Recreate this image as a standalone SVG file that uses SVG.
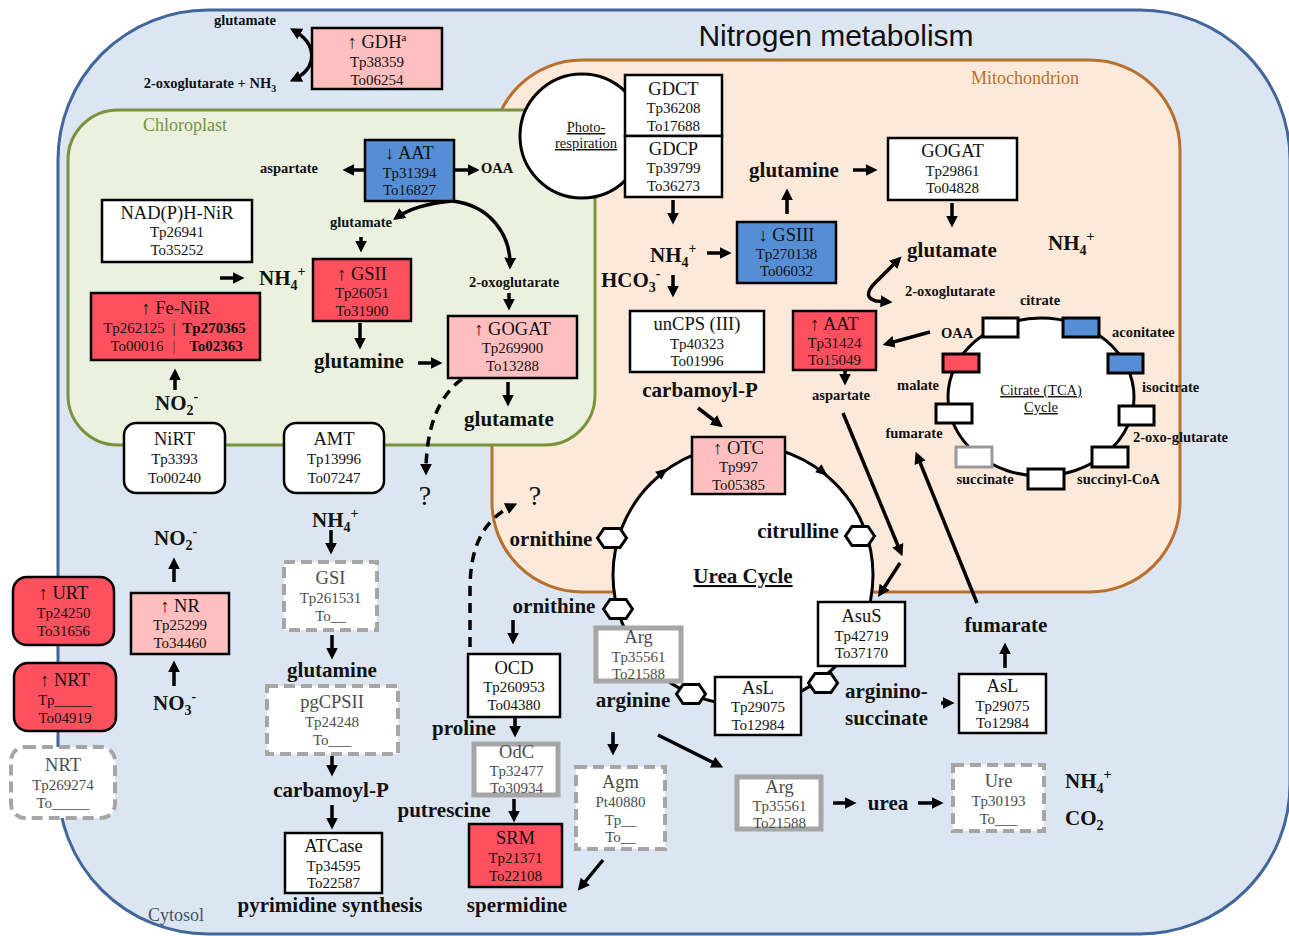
<svg xmlns="http://www.w3.org/2000/svg" width="1289" height="936" viewBox="0 0 1289 936">
<defs>
<style>
.c{font-family:"Liberation Serif","Times New Roman",serif;text-anchor:middle;fill:#111}
.st{text-anchor:start}
.n{font-size:18.5px}
.s{font-size:15px}
.b{font-weight:bold;font-size:21px}
.bs{font-weight:bold;font-size:14.5px}
.g{fill:#4d4d4d}
.k{stroke:#000;stroke-width:2.5}
.wt{fill:#fff}.pk{fill:#ffbfbf}.rd{fill:#ff505f}.bl{fill:#558ed5}
.gy{fill:#fff;stroke:#a6a6a6;stroke-width:5}
.ds{fill:#fff;stroke:#a6a6a6;stroke-width:4;stroke-dasharray:11 6}
.ar{stroke:#000;stroke-width:3.5;fill:none;marker-end:url(#ah)}
.dd{stroke-dasharray:10 7}
.tb{stroke:#000;stroke-width:3}
.u{text-decoration:underline}
</style>
<marker id="ah" viewBox="0 0 10 10" refX="7" refY="5" markerWidth="12" markerHeight="12" markerUnits="userSpaceOnUse" orient="auto-start-reverse"><path d="M0,0 L10,5 L0,10 z" fill="#000"/></marker>
<polygon id="hex" points="-14.5,0 -8,-9.5 8,-9.5 14.5,0 8,9.5 -8,9.5" fill="#fff" stroke="#000" stroke-width="3"/>
<polygon id="tri" points="-6,-5 6,0 -6,5" fill="#000"/>
</defs>

<!-- compartments -->
<g id="cytosol">
<rect x="58" y="10" width="1232" height="924" rx="150" fill="#dce6f2" stroke="#41669a" stroke-width="3"/>
<text class="c" x="176" y="921" font-size="18" fill="#44546a" style="fill:#44546a">Cytosol</text>
</g>
<text x="836" y="46" font-family="'Liberation Sans',Arial,sans-serif" font-size="30" text-anchor="middle" fill="#111">Nitrogen metabolism</text>
<g id="mitochondrion">
<rect x="492" y="60" width="688" height="532" rx="90" fill="#fde9d9" stroke="#b8702e" stroke-width="3"/>
<text class="c" x="1025" y="84" font-size="18" style="fill:#b8702e">Mitochondrion</text>
</g>
<g id="chloroplast">
<rect x="68" y="110" width="527" height="335" rx="50" fill="#ebf1de" stroke="#77933c" stroke-width="3"/>
<text class="c" x="185" y="131" font-size="18" style="fill:#77933c">Chloroplast</text>
</g>

<!-- cycles -->
<g id="photorespiration">
<circle cx="582" cy="136" r="62" fill="#fff" stroke="#000" stroke-width="3"/>
<text class="c u" x="586" y="132" font-size="14.5">Photo-</text>
<text class="c u" x="586" y="148" font-size="14.5">respiration</text>
</g>
<g id="urea-cycle">
<circle cx="743" cy="575" r="130" fill="#fff" stroke="#000" stroke-width="3"/>
<use href="#tri" transform="translate(663,472) rotate(-38)"/>
<use href="#tri" transform="translate(823,472) rotate(38)"/>
<text class="c b u" x="743" y="583">Urea Cycle</text>
</g>
<g id="tca-cycle">
<ellipse cx="1041" cy="397" rx="93" ry="79" fill="#fff" stroke="#000" stroke-width="3"/>
<text class="c u" x="1041" y="395" font-size="14.5">Citrate (TCA)</text>
<text class="c u" x="1041" y="412" font-size="14.5">Cycle</text>
<rect class="tb wt" x="983" y="318" width="35" height="19"/>
<rect class="tb bl" x="1063" y="318" width="36" height="19"/>
<rect class="tb bl" x="1108" y="354" width="35" height="19"/>
<rect class="tb rd" x="943" y="354" width="36" height="18"/>
<rect class="tb wt" x="936" y="404" width="36" height="19"/>
<rect class="tb wt" x="1119" y="406" width="35" height="19"/>
<rect x="956" y="447" width="36" height="20" fill="#fff" stroke="#999" stroke-width="3"/>
<rect class="tb wt" x="1092" y="447" width="36" height="20"/>
<rect class="tb wt" x="1028" y="469" width="36" height="20"/>
</g>

<!-- connectors -->
<g id="connectors">
<path class="ar" d="M293,30 C318,44 318,68 293,80" marker-start="url(#ah)"/>
<path class="ar" d="M365,170 L346,170"/>
<path class="ar" d="M455,170 L476,170"/>
<path class="ar" d="M452,201 C430,203 410,208 396,218"/>
<path class="ar" d="M452,201 C490,205 511,235 510,266"/>
<path class="ar" d="M361,237 L361,249"/>
<path class="ar" d="M509,293 L509,307"/>
<path class="ar" d="M220,278 L241,278"/>
<path class="ar" d="M175,390 L175,372"/>
<path class="ar" d="M360,323 L360,346"/>
<path class="ar" d="M418,363 L439,363"/>
<path class="ar" d="M508,382 L508,403"/>
<path class="ar dd" d="M462,379 C440,395 426,425 426,472"/>
<path class="ar" d="M673,200 L673,221"/>
<path class="ar" d="M707,253 L728,253"/>
<path class="ar" d="M787,214 L787,192"/>
<path class="ar" d="M853,170 L874,170"/>
<path class="ar" d="M952,203 L952,224"/>
<path class="ar" d="M673,275 L673,294"/>
<path class="ar" d="M698,408 L720,425"/>
<path class="ar" d="M930,332 L886,344"/>
<path class="ar" d="M845,371 L845,382"/>
<path class="ar" d="M899,259 L874,284 Q862,297 876,301 L889,302" marker-start="url(#ah)"/>
<path class="ar" d="M843,413 L901,553"/>
<path class="ar" d="M900,563 L880,594"/>
<path class="ar" d="M977,603 L917,455"/>
<path class="ar" d="M174,582 L174,561"/>
<path class="ar" d="M174,686 L174,664"/>
<path class="ar" d="M331,530 L331,551"/>
<path class="ar" d="M332,635 L332,656"/>
<path class="ar" d="M332,756 L332,773"/>
<path class="ar" d="M332,805 L332,826"/>
<path class="ar" d="M513,620 L513,641"/>
<path class="ar" d="M515,717 L515,734"/>
<path class="ar" d="M514,799 L514,819"/>
<path class="ar" d="M603,860 L580,888"/>
<path class="ar" d="M613,732 L613,752"/>
<path class="ar" d="M658,735 L720,766"/>
<path class="ar" d="M833,803 L853,803"/>
<path class="ar" d="M918,803 L940,803"/>
<path class="ar" d="M941,703 L951,703"/>
<path class="ar" d="M1005,668 L1005,646"/>
<path class="ar dd" d="M470,647 L470,590 C470,548 482,520 514,505"/>
</g>

<!-- labels -->
<g id="labels">
<text class="c bs" x="245" y="25">glutamate</text>
<text class="c bs" x="210" y="88">2-oxoglutarate + NH<tspan font-size="10" dy="4">3</tspan></text>
<text class="c bs" x="289" y="173">aspartate</text>
<text class="c bs" x="497" y="173">OAA</text>
<text class="c bs" x="361" y="227">glutamate</text>
<text class="c bs" x="514" y="287">2-oxoglutarate</text>
<text class="c b st" x="259" y="285">NH<tspan font-size="14" dy="5">4</tspan><tspan font-size="14" dy="-14">+</tspan></text>
<text class="c b st" x="155" y="410">NO<tspan font-size="14" dy="5">2</tspan><tspan font-size="14" dy="-14">-</tspan></text>
<text class="c b" x="359" y="368">glutamine</text>
<text class="c b" x="509" y="426">glutamate</text>
<text class="c" x="425" y="505" font-size="28">?</text>
<text class="c" x="535" y="505" font-size="28">?</text>
<text class="c b st" x="650" y="262">NH<tspan font-size="14" dy="5">4</tspan><tspan font-size="14" dy="-14">+</tspan></text>
<text class="c b" x="794" y="177">glutamine</text>
<text class="c b" x="952" y="257">glutamate</text>
<text class="c b st" x="1048" y="250">NH<tspan font-size="14" dy="5">4</tspan><tspan font-size="14" dy="-14">+</tspan></text>
<text class="c b st" x="601" y="287">HCO<tspan font-size="14" dy="5">3</tspan><tspan font-size="14" dy="-14">-</tspan></text>
<text class="c b" x="700" y="397">carbamoyl-P</text>
<text class="c bs" x="950" y="296">2-oxoglutarate</text>
<text class="c bs" x="1040" y="305">citrate</text>
<text class="c bs" x="957" y="338">OAA</text>
<text class="c bs st" x="1112" y="337">aconitatee</text>
<text class="c bs" x="918" y="390">malate</text>
<text class="c bs st" x="1142" y="392">isocitrate</text>
<text class="c bs" x="914" y="438">fumarate</text>
<text class="c bs st" x="1133" y="442">2-oxo-glutarate</text>
<text class="c bs" x="985" y="484">succinate</text>
<text class="c bs st" x="1077" y="484">succinyl-CoA</text>
<text class="c bs" x="841" y="400">aspartate</text>
<text class="c b" x="551" y="546">ornithine</text>
<text class="c b" x="798" y="538">citrulline</text>
<text class="c b" x="554" y="613">ornithine</text>
<text class="c b" x="633" y="707">arginine</text>
<text class="c b st" x="845" y="698">arginino-</text>
<text class="c b st" x="845" y="725">succinate</text>
<text class="c b" x="1006" y="632">fumarate</text>
<text class="c b" x="888" y="810">urea</text>
<text class="c b st" x="1065" y="788">NH<tspan font-size="14" dy="5">4</tspan><tspan font-size="14" dy="-14">+</tspan></text>
<text class="c b st" x="1065" y="825">CO<tspan font-size="14" dy="5">2</tspan></text>
<text class="c b" x="464" y="735">proline</text>
<text class="c b" x="444" y="817">putrescine</text>
<text class="c b" x="517" y="912">spermidine</text>
<text class="c b st" x="154" y="545">NO<tspan font-size="14" dy="5">2</tspan><tspan font-size="14" dy="-14">-</tspan></text>
<text class="c b st" x="153" y="710">NO<tspan font-size="14" dy="5">3</tspan><tspan font-size="14" dy="-14">-</tspan></text>
<text class="c b st" x="312" y="527">NH<tspan font-size="14" dy="5">4</tspan><tspan font-size="14" dy="-14">+</tspan></text>
<text class="c b" x="332" y="677">glutamine</text>
<text class="c b" x="331" y="797">carbamoyl-P</text>
<text class="c b" x="330" y="912">pyrimidine synthesis</text>
</g>

<!-- hexagons -->
<g id="hexagons">
<use href="#hex" x="612" y="538"/>
<use href="#hex" x="860" y="536"/>
<use href="#hex" x="618" y="609"/>
<use href="#hex" x="691" y="694"/>
<use href="#hex" x="823" y="683"/>
</g>

<!-- nodes -->
<g id="GDH"><rect class="k pk" x="312" y="28" width="130" height="61"/><text class="c n" x="377" y="48">↑ GDH<tspan font-size="11" dy="-7">a</tspan></text><text class="c s" x="377" y="67">Tp38359</text><text class="c s" x="377" y="85">To06254</text></g>
<g id="AAT-chloroplast"><rect class="k bl" x="365" y="140" width="89" height="61"/><text class="c n" x="409.5" y="159">↓ AAT</text><text class="c s" x="409.5" y="178">Tp31394</text><text class="c s" x="409.5" y="195">To16827</text></g>
<g id="NADPH-NiR"><rect class="k wt" x="102" y="200" width="150" height="62"/><text class="c n" x="177" y="219">NAD(P)H-NiR</text><text class="c s" x="177" y="237">Tp26941</text><text class="c s" x="177" y="255">To35252</text></g>
<g id="GSII"><rect class="k rd" x="313" y="259" width="98" height="62"/><text class="c n" x="362" y="280">↑ GSII</text><text class="c s" x="362" y="298">Tp26051</text><text class="c s" x="362" y="316">To31900</text></g>
<g id="Fe-NiR"><rect class="k rd" x="91" y="293" width="169" height="67"/><text class="c n" x="176" y="314">↑ Fe-NiR</text><text class="c s" x="134" y="333">Tp262125</text><text class="c s" x="174" y="333">|</text><text class="c s" x="214" y="333" font-weight="bold">Tp270365</text><text class="c s" x="137" y="351">To00016</text><text class="c s" x="174" y="351" fill="#555" style="fill:#7a2a30">|</text><text class="c s" x="216" y="351" font-weight="bold">To02363</text></g>
<g id="GOGAT-chloroplast"><rect class="k pk" x="448" y="316" width="129" height="62"/><text class="c n" x="512.5" y="335">↑ GOGAT</text><text class="c s" x="512.5" y="353">Tp269900</text><text class="c s" x="512.5" y="371">To13288</text></g>
<g id="NiRT"><rect class="k wt" x="124" y="423" width="101" height="70" rx="12"/><text class="c n" x="174.5" y="445">NiRT</text><text class="c s" x="174.5" y="464">Tp3393</text><text class="c s" x="174.5" y="483">To00240</text></g>
<g id="AMT"><rect class="k wt" x="284" y="423" width="100" height="70" rx="12"/><text class="c n" x="334" y="445">AMT</text><text class="c s" x="334" y="464">Tp13996</text><text class="c s" x="334" y="483">To07247</text></g>
<g id="URT"><rect class="k rd" x="13" y="577" width="101" height="68" rx="14"/><text class="c n" x="63.5" y="599">↑ URT</text><text class="c s" x="63.5" y="618">Tp24250</text><text class="c s" x="63.5" y="636">To31656</text></g>
<g id="NRT-up"><rect class="k rd" x="14" y="663" width="102" height="68" rx="14"/><text class="c n" x="65" y="686">↑ NRT</text><text class="c s" x="65" y="705">Tp_____</text><text class="c s" x="65" y="723">To04919</text></g>
<g id="NRT"><rect class="ds" x="11" y="747" width="104" height="71" rx="14"/><text class="c n g" x="63" y="771">NRT</text><text class="c s g" x="63" y="790">Tp269274</text><text class="c s g" x="63" y="808">To_____</text></g>
<g id="NR"><rect class="k pk" x="131" y="593" width="98" height="61"/><text class="c n" x="180" y="612">↑ NR</text><text class="c s" x="180" y="630">Tp25299</text><text class="c s" x="180" y="648">To34460</text></g>
<g id="GSI"><rect class="ds" x="284" y="562" width="93" height="68"/><text class="c n g" x="330.5" y="584">GSI</text><text class="c s g" x="330.5" y="603">Tp261531</text><text class="c s g" x="330.5" y="621">To__</text></g>
<g id="pgCPSII"><rect class="ds" x="267" y="686" width="131" height="68"/><text class="c n g" x="332" y="708">pgCPSII</text><text class="c s g" x="332" y="727">Tp24248</text><text class="c s g" x="332" y="745">To___</text></g>
<g id="ATCase"><rect class="k wt" x="285" y="833" width="97" height="60"/><text class="c n" x="333.5" y="852">ATCase</text><text class="c s" x="333.5" y="871">Tp34595</text><text class="c s" x="333.5" y="888">To22587</text></g>
<g id="GDCT"><rect class="k wt" x="625" y="75" width="97" height="61"/><text class="c n" x="673.5" y="95">GDCT</text><text class="c s" x="673.5" y="113">Tp36208</text><text class="c s" x="673.5" y="131">To17688</text></g>
<g id="GDCP"><rect class="k wt" x="625" y="136" width="97" height="61"/><text class="c n" x="673.5" y="155">GDCP</text><text class="c s" x="673.5" y="173">Tp39799</text><text class="c s" x="673.5" y="191">To36273</text></g>
<g id="GSIII"><rect class="k bl" x="737" y="222" width="99" height="61"/><text class="c n" x="786.5" y="241">↓ GSIII</text><text class="c s" x="786.5" y="259">Tp270138</text><text class="c s" x="786.5" y="276">To06032</text></g>
<g id="GOGAT-mito"><rect class="k wt" x="888" y="138" width="129" height="62"/><text class="c n" x="952.5" y="157">GOGAT</text><text class="c s" x="952.5" y="176">Tp29861</text><text class="c s" x="952.5" y="193">To04828</text></g>
<g id="unCPS"><rect class="k wt" x="630" y="311" width="134" height="61"/><text class="c n" x="697" y="330">unCPS (III)</text><text class="c s" x="697" y="349">Tp40323</text><text class="c s" x="697" y="366">To01996</text></g>
<g id="AAT-mito"><rect class="k rd" x="793" y="311" width="83" height="59"/><text class="c n" x="834.5" y="330">↑ AAT</text><text class="c s" x="834.5" y="348">Tp31424</text><text class="c s" x="834.5" y="365">To15049</text></g>
<g id="OTC"><rect class="k pk" x="692" y="437" width="93" height="57"/><text class="c n" x="738.5" y="454">↑ OTC</text><text class="c s" x="738.5" y="472">Tp997</text><text class="c s" x="738.5" y="490">To05385</text></g>
<g id="Arg-urea"><rect class="gy" x="596" y="628" width="85" height="53"/><text class="c n g" x="638.5" y="643">Arg</text><text class="c s g" x="638.5" y="662">Tp35561</text><text class="c s g" x="638.5" y="679">To21588</text></g>
<g id="AsL-urea"><rect class="k wt" x="715" y="677" width="86" height="58"/><text class="c n" x="758" y="694">AsL</text><text class="c s" x="758" y="712">Tp29075</text><text class="c s" x="758" y="730">To12984</text></g>
<g id="AsuS"><rect class="k wt" x="818" y="602" width="87" height="64"/><text class="c n" x="861.5" y="622">AsuS</text><text class="c s" x="861.5" y="641">Tp42719</text><text class="c s" x="861.5" y="658">To37170</text></g>
<g id="AsL"><rect class="k wt" x="959" y="674" width="87" height="59"/><text class="c n" x="1002.5" y="692">AsL</text><text class="c s" x="1002.5" y="711">Tp29075</text><text class="c s" x="1002.5" y="728">To12984</text></g>
<g id="Ure"><rect class="ds" x="953" y="765" width="91" height="66"/><text class="c n g" x="998.5" y="787">Ure</text><text class="c s g" x="998.5" y="806">Tp30193</text><text class="c s g" x="998.5" y="824">To___</text></g>
<g id="Arg"><rect class="gy" x="737" y="777" width="84" height="52"/><text class="c n g" x="779.5" y="793">Arg</text><text class="c s g" x="779.5" y="811">Tp35561</text><text class="c s g" x="779.5" y="828">To21588</text></g>
<g id="Agm"><rect class="ds" x="576" y="767" width="89" height="82"/><text class="c n g" x="620.5" y="788">Agm</text><text class="c s g" x="620.5" y="807">Pt40880</text><text class="c s g" x="620.5" y="825">Tp__</text><text class="c s g" x="620.5" y="842">To__</text></g>
<g id="OCD"><rect class="k wt" x="468" y="654" width="92" height="63"/><text class="c n" x="514" y="674">OCD</text><text class="c s" x="514" y="692">Tp260953</text><text class="c s" x="514" y="710">To04380</text></g>
<g id="OdC"><rect class="gy" x="474" y="744" width="84" height="51"/><text class="c n g" x="516.5" y="758">OdC</text><text class="c s g" x="516.5" y="776">Tp32477</text><text class="c s g" x="516.5" y="793">To30934</text></g>
<g id="SRM"><rect class="k rd" x="469" y="824" width="93" height="63"/><text class="c n" x="515.5" y="844">SRM</text><text class="c s" x="515.5" y="863">Tp21371</text><text class="c s" x="515.5" y="881">To22108</text></g>
</svg>
